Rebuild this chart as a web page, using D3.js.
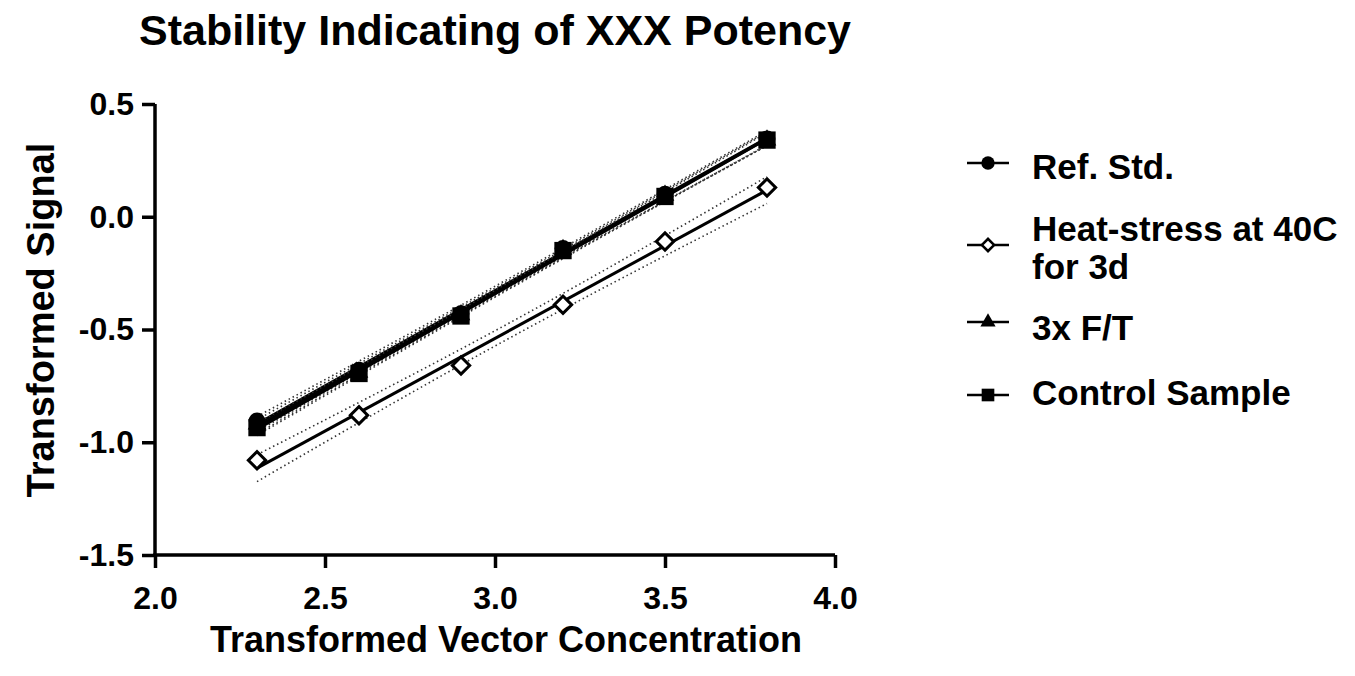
<!DOCTYPE html>
<html>
<head>
<meta charset="utf-8">
<script src="https://cdn.jsdelivr.net/npm/d3@7"></script>
<style>
    body { margin: 0; background: #fff; }
    text { font-family: Arial, "Liberation Sans", sans-serif; font-weight: bold; fill: #000; }
</style>
</head>
<body>
<svg id="chart" width="1355" height="676"></svg>
<script>
// Chart data
var xValues = [2.3, 2.6, 2.9, 3.2, 3.5, 3.8];
var refStd = [-0.905, -0.68, -0.43, -0.14, 0.10, 0.345];
var heatStress = [-1.08, -0.88, -0.66, -0.39, -0.11, 0.13];
var freezeThaw = [-0.92, -0.69, -0.435, -0.145, 0.095, 0.34];
var control = [-0.935, -0.695, -0.44, -0.15, 0.09, 0.34];

var seriesNames = ["Ref. Std.", "Heat-stress at 40C\nfor 3d", "3x F/T", "Control Sample"];
var xTicks = [2.0, 2.5, 3.0, 3.5, 4.0];
var yTicks = [-1.5, -1.0, -0.5, 0.0, 0.5];

var allSeries = [
    {name: seriesNames[0], values: refStd, shape: "circle"},
    {name: seriesNames[1], values: heatStress, shape: "diamond"},
    {name: seriesNames[2], values: freezeThaw, shape: "triangle"},
    {name: seriesNames[3], values: control, shape: "square"}
];

var svg = d3.select("#chart");

var xScale = d3.scaleLinear().domain([2, 4]).range([155, 835]);
var yScale = d3.scaleLinear().domain([-1.5, 0.5]).range([555, 104]);

// linear fit + 95% confidence band (t for df = 4)
function fitLine(xs, ys) {
    var n = xs.length;
    var mx = d3.mean(xs), my = d3.mean(ys);
    var sxx = d3.sum(xs, function(x){ return (x - mx) * (x - mx); });
    var sxy = d3.sum(xs, function(x, i){ return (x - mx) * (ys[i] - my); });
    var slope = sxy / sxx;
    var icpt = my - slope * mx;
    var sse = d3.sum(xs, function(x, i){ var r = ys[i] - (icpt + slope * x); return r * r; });
    var s = Math.sqrt(sse / (n - 2));
    var t = 2.776;
    return {
        y: function(x){ return icpt + slope * x; },
        half: function(x){ return t * s * Math.sqrt(1 / n + (x - mx) * (x - mx) / sxx); }
    };
}

var line = d3.line()
    .x(function(d){ return xScale(d[0]); })
    .y(function(d){ return yScale(d[1]); });

var xMin = d3.min(xValues), xMax = d3.max(xValues);
var samples = d3.range(0, 41).map(function(i){ return xMin + (xMax - xMin) * i / 40; });

function markerPath(shape, size) {
    if (shape == "circle") return d3.symbol(d3.symbolCircle, size)();
    if (shape == "triangle") return d3.symbol(d3.symbolTriangle, size)();
    return d3.symbol(d3.symbolSquare, size)();
}

var plot = svg.append("g");

allSeries.forEach(function(s) {
    var f = fitLine(xValues, s.values);

    // dotted confidence bands
    [-1, 1].forEach(function(sign) {
        plot.append("path")
            .attr("d", line(samples.map(function(x){ return [x, f.y(x) + sign * f.half(x)]; })))
            .attr("fill", "none")
            .attr("stroke", "#333")
            .attr("stroke-width", 1.6)
            .attr("stroke-dasharray", "1.5,3");
    });

    // fit line
    plot.append("path")
        .attr("d", line([[xMin, f.y(xMin)], [xMax, f.y(xMax)]]))
        .attr("fill", "none")
        .attr("stroke", "#000")
        .attr("stroke-width", 3);
});

// markers: triangles first so they sit under circles and squares
var markerOrder = [2, 1, 0, 3];
var markerSize = {circle: 220, diamond: 150, triangle: 150, square: 300};

markerOrder.forEach(function(k) {
    var s = allSeries[k];
    var pts = xValues.map(function(x, i){ return [x, s.values[i]]; });
    var m = plot.selectAll(null)
        .data(pts)
        .enter()
        .append("path")
        .attr("d", markerPath(s.shape, markerSize[s.shape]))
        .attr("transform", function(d){
            return "translate(" + xScale(d[0]) + "," + yScale(d[1]) + ")" + (s.shape == "diamond" ? " rotate(45)" : "");
        });
    if (s.shape == "diamond") {
        m.attr("fill", "#fff").attr("stroke", "#000").attr("stroke-width", 3);
    } else {
        m.attr("fill", "#000");
    }
});

// axes
var xAxis = d3.axisBottom(xScale)
    .tickValues(xTicks)
    .tickFormat(d3.format(".1f"))
    .tickSize(13)
    .tickSizeOuter(0);

var yAxis = d3.axisLeft(yScale)
    .tickValues(yTicks)
    .tickFormat(function(d){ return d3.format(".1f")(d).replace("\u2212", "-"); })
    .tickSize(13)
    .tickSizeOuter(0)
    .tickPadding(8);

var gx = svg.append("g")
    .attr("transform", "translate(0,555)")
    .call(xAxis);

var gy = svg.append("g")
    .attr("transform", "translate(155,0)")
    .call(yAxis);

[gx, gy].forEach(function(g) {
    g.selectAll("path, line").attr("stroke", "#000").attr("stroke-width", 3.5);
    g.selectAll("text")
        .style("font-size", "32px")
        .style("font-family", "Arial, 'Liberation Sans', sans-serif")
        .style("font-weight", "bold")
        .attr("fill", "#000");
});
gx.select(".domain").attr("d", "M153.25,0H835");
gy.select(".domain").attr("d", "M0,104V556.75");
gx.selectAll("text").attr("y", 31);

// titles
svg.append("text")
    .attr("x", 495)
    .attr("y", 45)
    .attr("text-anchor", "middle")
    .style("font-size", "43px")
    .text("Stability Indicating of XXX Potency");

svg.append("text")
    .attr("x", 506)
    .attr("y", 652)
    .attr("text-anchor", "middle")
    .style("font-size", "36px")
    .text("Transformed Vector Concentration");

svg.append("text")
    .attr("transform", "translate(54,320) rotate(-90)")
    .attr("text-anchor", "middle")
    .style("font-size", "38px")
    .text("Transformed Signal");

// legend
var legendY = [163, 245, 322, 395];
var legendTextY = [[179], [241, 279], [340], [405]];
var legendSize = {circle: 140, diamond: 75, triangle: 100, square: 160};

allSeries.forEach(function(s, i) {
    var g = svg.append("g").attr("transform", "translate(988," + legendY[i] + ")");
    g.append("line")
        .attr("x1", -21).attr("x2", 21)
        .attr("stroke", "#000").attr("stroke-width", 2.5);
    var m = g.append("path")
        .attr("d", markerPath(s.shape, legendSize[s.shape]))
        .attr("transform", s.shape == "diamond" ? "rotate(45)" : null);
    if (s.shape == "diamond") {
        m.attr("fill", "#fff").attr("stroke", "#000").attr("stroke-width", 2.5);
    } else {
        m.attr("fill", "#000");
    }
    s.name.split("\n").forEach(function(part, j) {
        svg.append("text")
            .attr("x", 1032)
            .attr("y", legendTextY[i][j])
            .style("font-size", "35px")
            .text(part);
    });
});
</script>
</body>
</html>
